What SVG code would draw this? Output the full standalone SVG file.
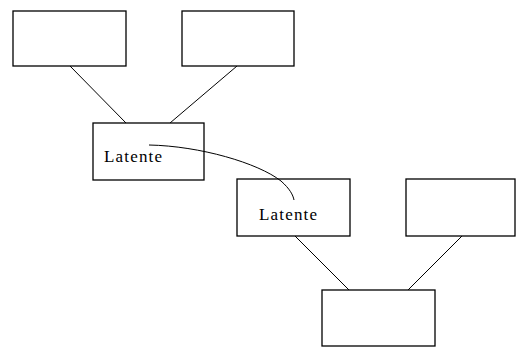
<svg xmlns="http://www.w3.org/2000/svg" width="516" height="347" viewBox="0 0 516 347">
<style>
.box{fill:#fff;stroke:#000;stroke-width:1.3}
.lbl{font-family:"Liberation Serif",serif;font-size:17px;fill:#000}
.ln{stroke:#000;stroke-width:1;fill:none}
</style>
<rect width="516" height="347" fill="#fff"/>
<g id="connectors">
<line class="ln" x1="70" y1="66" x2="126" y2="123"/>
<line class="ln" x1="237" y1="66" x2="170" y2="123"/>
<line class="ln" x1="295" y1="236" x2="349" y2="290"/>
<line class="ln" x1="462" y1="236" x2="408" y2="290"/>
</g>
<g id="n1"><rect class="box" x="13" y="11" width="113" height="55"/></g>
<g id="n2"><rect class="box" x="182" y="11" width="112" height="55"/></g>
<g id="n3"><rect class="box" x="93" y="123" width="111" height="57"/><text class="lbl" x="104" y="162" textLength="58">Latente</text></g>
<g id="n4"><rect class="box" x="237" y="179" width="113" height="57"/><text class="lbl" x="259" y="220" textLength="58">Latente</text></g>
<g id="n5"><rect class="box" x="406" y="179" width="109" height="57"/></g>
<g id="n6"><rect class="box" x="322" y="290" width="113" height="56"/></g>
<g id="curve"><path class="ln" d="M149,145 C200,146 258,163 281,181 C290,189 293,195 294,200"/></g>
</svg>
